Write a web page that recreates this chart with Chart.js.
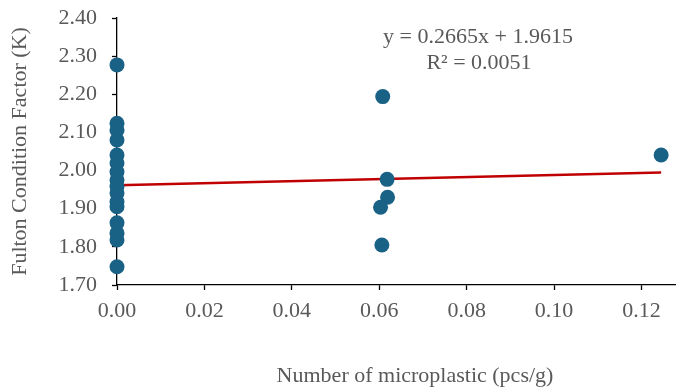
<!DOCTYPE html>
<html>
<head>
<meta charset="utf-8">
<script src="https://cdn.jsdelivr.net/npm/chart.js@4/dist/chart.umd.min.js"></script>
<style>
  html, body { margin: 0; padding: 0; background: #fff; overflow: hidden; }
  #wrap { width: 676px; height: 389px; position: relative; }
</style>
</head>
<body>
<div id="wrap"><canvas id="c"></canvas></div>
<script>
// ── Data ─────────────────────────────────────────────────────────
const xZero  = [0, 0, 0, 0, 0, 0, 0, 0, 0, 0, 0, 0, 0, 0, 0, 0];
const kZero  = [2.277, 2.124, 2.106, 2.080, 2.041, 2.020, 1.997, 1.975,
                1.958, 1.941, 1.918, 1.905, 1.863, 1.836, 1.818, 1.748];
const xOther = [0.0608, 0.0618, 0.0619, 0.0603, 0.0606, 0.1245];
const kOther = [2.194, 1.977, 1.930, 1.904, 1.805, 2.041];

const slope = 0.2665, intercept = 1.9615, r2 = 0.0051;
const yTicks = [1.70, 1.80, 1.90, 2.00, 2.10, 2.20, 2.30, 2.40];
const xTicks = [0, 0.02, 0.04, 0.06, 0.08, 0.10, 0.12];

const TXT = '#595959';
const FONT = 'Liberation Serif, Times New Roman, serif';

const xs = xZero.concat(xOther);
const ks = kZero.concat(kOther);
const points = xs.map((x, i) => ({ x, y: ks[i] }));
const xMaxData = Math.max(...xs);
const trend = [0, xMaxData].map(x => ({ x, y: slope * x + intercept }));

// ── Annotation text (equation + x title) ─────────────────────────
const textPlugin = {
  id: 'texts',
  afterDraw(chart) {
    const ctx = chart.ctx;
    ctx.save();
    ctx.fillStyle = TXT;
    ctx.font = '22px ' + FONT;
    ctx.textAlign = 'center';
    ctx.textBaseline = 'middle';
    ctx.fillText(`y = ${slope}x + ${intercept}`, 478, 37);
    ctx.fillText(`R² = ${r2.toFixed(4)}`, 479, 63);
    ctx.fillText('Number of microplastic (pcs/g)', 415, 376);
    ctx.restore();
  }
};

new Chart(document.getElementById('c'), {
  type: 'scatter',
  data: {
    datasets: [
      {
        type: 'line',
        data: trend,
        borderColor: '#c00000',
        borderWidth: 2.5,
        pointRadius: 0,
        fill: false,
        clip: false,
        order: 2,
      },
      {
        data: points,
        backgroundColor: '#1a6186',
        borderWidth: 0,
        pointRadius: 7.5,
        pointHoverRadius: 7.5,
        clip: false,
        order: 1,
      },
    ],
  },
  options: {
    responsive: true,
    maintainAspectRatio: false,
    animation: false,
    events: [],
    layout: { autoPadding: false, padding: { top: 18, right: 0, bottom: 0, left: 0 } },
    plugins: { legend: { display: false }, tooltip: { enabled: false } },
    scales: {
      x: {
        type: 'linear',
        min: 0,
        max: 0.1279,
        afterBuildTicks: s => { s.ticks = xTicks.map(v => ({ value: v })); },
        afterFit: s => { s.height = 104; },
        ticks: {
          color: TXT,
          font: { family: FONT, size: 22 },
          padding: 8,
          maxRotation: 0,
          callback: v => Number(v).toFixed(2),
        },
        grid: { drawOnChartArea: false, drawTicks: true, tickLength: 5, tickColor: '#000', tickWidth: 1.3 },
        border: { color: '#000', width: 1.3 },
      },
      y: {
        min: 1.70,
        max: 2.40,
        afterBuildTicks: s => { s.ticks = yTicks.map(v => ({ value: v })); },
        afterFit: s => { s.width = 117; s.paddingTop = 0; s.paddingBottom = 0; },
        ticks: {
          color: TXT,
          font: { family: FONT, size: 22 },
          padding: 15,
          callback: v => Number(v).toFixed(2),
        },
        title: {
          display: true,
          text: 'Fulton Condition Factor (K)',
          color: TXT,
          font: { family: FONT, size: 22 },
          padding: { top: 7, bottom: 0 },
        },
        grid: { drawOnChartArea: false, drawTicks: true, tickLength: 5, tickColor: '#000', tickWidth: 1.3 },
        border: { color: '#000', width: 1.3 },
      },
    },
  },
  plugins: [textPlugin],
});
</script>
</body>
</html>
